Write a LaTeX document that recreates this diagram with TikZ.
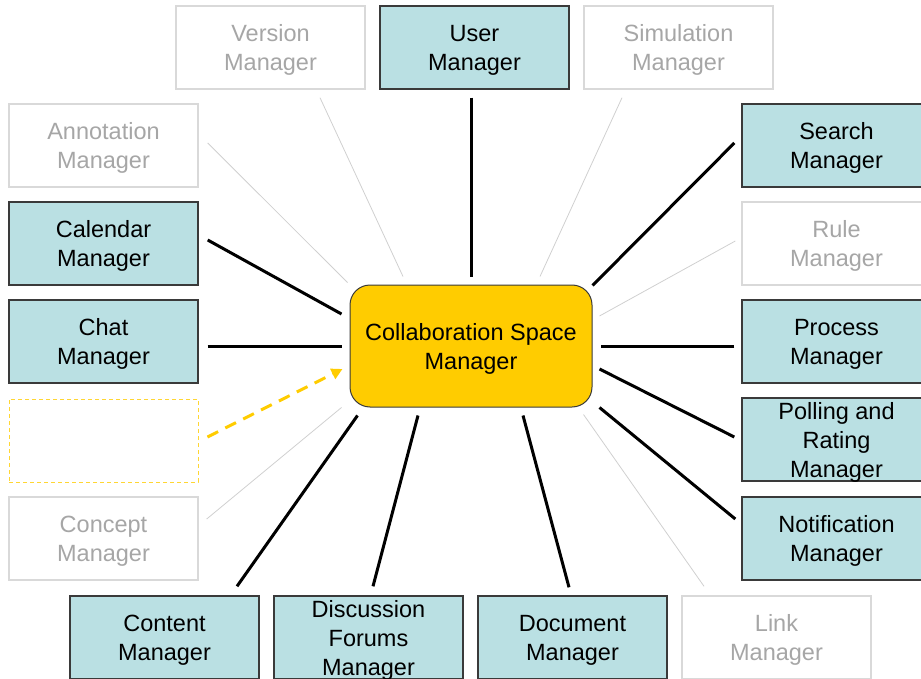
\documentclass[tikz,border=0pt]{standalone}
\usepackage{fontspec}
\setmainfont{Liberation Sans}
\usetikzlibrary{arrows.meta,calc}
\definecolor{boxfill}{HTML}{BAE0E3}
\definecolor{boxline}{HTML}{3A3A3A}
\definecolor{ghostline}{HTML}{D9D9D9}
\definecolor{ghosttext}{HTML}{A6A6A6}
\definecolor{ghostwire}{HTML}{D0D0D0}
\definecolor{coreyellow}{HTML}{FFCC00}
\begin{document}
\begin{tikzpicture}[x=1pt,y=-1pt,
  mgr/.style={draw=boxline, line width=1.4pt, fill=boxfill,
    minimum width=189pt, minimum height=83pt, inner sep=0pt,
    text depth=-3pt,
    align=center, font=\fontsize{23.5}{29}\selectfont},
  ghost/.style={mgr, draw=ghostline, fill=white, text=ghosttext},
  spare/.style={mgr, draw=coreyellow!80, fill=white, line width=0.9pt,
    dash pattern=on 4pt off 3pt},
  core/.style={draw=boxline, line width=1pt, fill=coreyellow,
    rounded corners=20pt, minimum width=242pt, minimum height=122pt,
    inner sep=0pt, text depth=-3pt,
    align=center, font=\fontsize{23.5}{29}\selectfont},
  wire/.style={line width=3pt, draw=black},
  faintwire/.style={line width=0.8pt, draw=ghostwire},
  hint/.style={line width=3pt, draw=coreyellow, dash pattern=on 12pt off 8pt,
    -{Triangle[length=11pt,width=11pt]}}]
\useasboundingbox (0,0) rectangle (921,679);
\clip (0,0) rectangle (921,679);

% central component
\node[core] (csm) at (471,346) {Collaboration Space\\Manager};

% top row
\node[ghost] (version) at (270.5,47.5) {Version\\Manager};
\node[mgr] (user) at (474.5,47.5) {User\\Manager};
\node[ghost] (simulation) at (678.5,47.5) {Simulation\\Manager};

% left column
\node[ghost] (annotation) at (103.5,145.5) {Annotation\\Manager};
\node[mgr] (calendar) at (103.5,243.5) {Calendar\\Manager};
\node[mgr] (chat) at (103.5,341.5) {Chat\\Manager};
\node[spare] (blank) at (103.5,440.5) {};
\node[ghost] (concept) at (103.5,538.5) {Concept\\Manager};

% right column
\node[mgr] (search) at (836.5,145.5) {Search\\Manager};
\node[ghost] (rule) at (836.5,243.5) {Rule\\Manager};
\node[mgr] (process) at (836.5,341.5) {Process\\Manager};
\node[mgr] (polling) at (836.5,439.5) {Polling and\\Rating\\Manager};
\node[mgr] (notification) at (836.5,538.5) {Notification\\Manager};

% bottom row
\node[mgr] (content) at (164.5,637.5) {Content\\Manager};
\node[mgr] (discussion) at (368.5,637.5) {Discussion\\Forums\\Manager};
\node[mgr] (document) at (572.5,637.5) {Document\\Manager};
\node[ghost] (link) at (776.5,637.5) {Link\\Manager};

% connectors to the central component
\draw[faintwire] ([shift={(49.5,8)}]version.south) -- ([shift={(-68,-8)}]csm.north);
\draw[wire] ([shift={(-3.5,8)}]user.south) -- ([shift={(0,-8)}]csm.north);
\draw[faintwire] ([shift={(-56.5,8)}]simulation.south) -- ([shift={(69,-8)}]csm.north);

\draw[faintwire] ([shift={(9,-2.5)}]annotation.east) -- ([shift={(-2,-2)}]csm.north west);
\draw[wire] ([shift={(9,-3.5)}]calendar.east) -- ([shift={(-8,-32)}]csm.west);
\draw[wire] ([shift={(9,4.5)}]chat.east) -- ([shift={(-8,0)}]csm.west);
\draw[hint] ([shift={(9,-3.5)}]blank.east) -- ([shift={(-7,23)}]csm.west);
\draw[faintwire] ([shift={(8,-19.5)}]concept.east) -- ([shift={(-8,0)}]csm.south west);

\draw[wire] ([shift={(-7,-2.5)}]search.west) -- ([shift={(0,1)}]csm.north east);
\draw[faintwire] ([shift={(-6,-2.5)}]rule.west) -- ([shift={(7,-30)}]csm.east);
\draw[wire] ([shift={(-7,4.5)}]process.west) -- ([shift={(8,0)}]csm.east);
\draw[wire] ([shift={(-7,-2.5)}]polling.west) -- ([shift={(7,23)}]csm.east);
\draw[wire] ([shift={(-6,-19.5)}]notification.west) -- ([shift={(7,0)}]csm.south east);

\draw[wire] ([shift={(72.5,-9)}]content.north) -- ([shift={(8,8)}]csm.south west);
\draw[wire] ([shift={(4.5,-9)}]discussion.north) -- ([shift={(-53,8)}]csm.south);
\draw[wire] ([shift={(-3.5,-8)}]document.north) -- ([shift={(52,8)}]csm.south);
\draw[faintwire] ([shift={(-72.5,-9)}]link.north) -- ([shift={(-9,7)}]csm.south east);
\end{tikzpicture}
\end{document}
